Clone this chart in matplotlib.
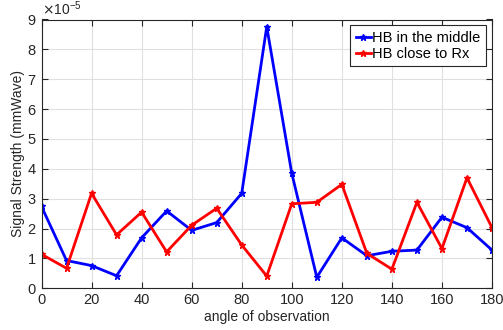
import matplotlib
matplotlib.use("Agg")
import matplotlib.pyplot as plt
from matplotlib.ticker import ScalarFormatter

plt.rcParams['font.family'] = ['Liberation Sans', 'DejaVu Sans']

angles = [0, 10, 20, 30, 40, 50, 60, 70, 80, 90, 100, 110, 120, 130, 140, 150, 160, 170, 180]
hb_middle = [2.74, 0.93, 0.76, 0.42, 1.69, 2.59, 1.94, 2.20, 3.18, 8.76,
             3.85, 0.37, 1.69, 1.09, 1.24, 1.28, 2.38, 2.03, 1.28]
hb_close_rx = [1.14, 0.67, 3.18, 1.79, 2.55, 1.22, 2.11, 2.68, 1.45, 0.41,
               2.83, 2.88, 3.48, 1.17, 0.64, 2.88, 1.33, 3.70, 2.03]
scale = 1e-5
labels = ['HB in the middle', 'HB close to Rx']

dark = (0.15, 0.15, 0.15)

fig = plt.figure(figsize=(5.03, 3.30), dpi=100)
ax = fig.add_axes([41.5 / 503, 1 - 288.3 / 330, (492 - 41.5) / 503, (288.3 - 19.5) / 330])

ax.plot(angles, [v * scale for v in hb_middle], color=(0, 0, 1), lw=2,
        marker='*', ms=5, mew=1, label=labels[0])
ax.plot(angles, [v * scale for v in hb_close_rx], color=(1, 0, 0), lw=2,
        marker='*', ms=5, mew=1, label=labels[1])

ax.set_xlim(0, 180)
ax.set_ylim(0, 9e-5)
ax.set_xticks(range(0, 181, 20))
ax.set_yticks([i * 1e-5 for i in range(10)])

fmt = ScalarFormatter(useMathText=True)
fmt.set_powerlimits((0, 0))
ax.yaxis.set_major_formatter(fmt)
ax.yaxis.get_offset_text().set_fontsize(10)
ax.yaxis.get_offset_text().set_color(dark)

ax.grid(True, color=(0.88, 0.88, 0.88), lw=0.8)
ax.set_axisbelow(True)
for s in ax.spines.values():
    s.set_color(dark)
    s.set_linewidth(0.8)
ax.tick_params(direction='in', top=True, right=True, labelsize=10.5,
               colors=dark, length=4, width=0.8)

ax.set_xlabel('angle of observation', fontsize=10, color=dark, labelpad=2)
ax.set_ylabel('Signal Strength (mmWave)', fontsize=10, color=dark, labelpad=1)

leg = ax.legend(loc='upper right', fontsize=10.5, frameon=True, fancybox=False,
                edgecolor=dark, framealpha=1, handlelength=1.0,
                handletextpad=0.1, borderpad=0.4, labelspacing=0.1,
                borderaxespad=0.4)
leg.get_frame().set_linewidth(0.8)

fig.savefig('out.png', dpi=100)
